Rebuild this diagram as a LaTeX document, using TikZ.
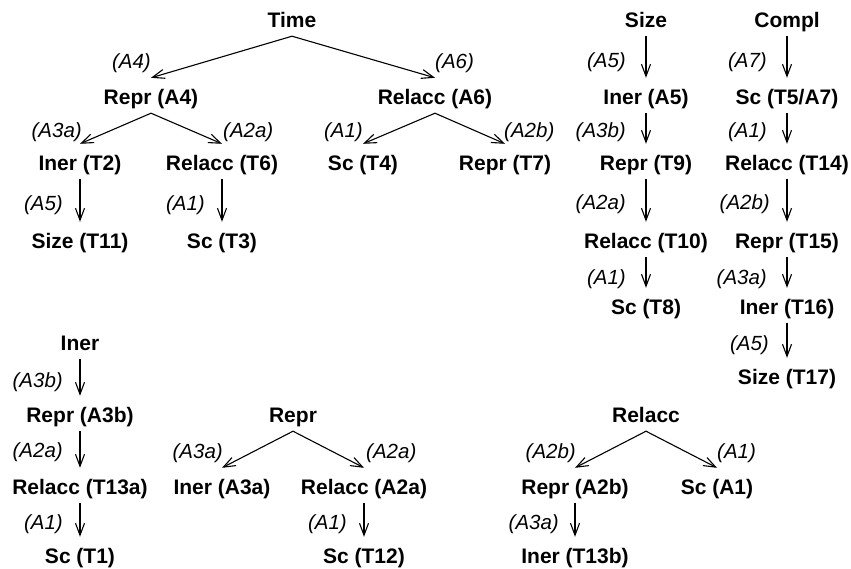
\documentclass[tikz,border=0pt]{standalone}
\usepackage{fontspec}
\newfontfamily\hv{Liberation Sans}
\usetikzlibrary{arrows.meta}
\begin{document}
\begin{tikzpicture}[x=1pt,y=-1pt,
  nd/.style={font=\hv\bfseries\fontsize{21}{21}\selectfont,text height=15pt,text depth=0pt,inner sep=0pt,anchor=center},
  lab/.style={font=\hv\itshape\fontsize{20.5}{20.5}\selectfont,text height=15pt,text depth=0pt,inner sep=0pt},
  arr/.style={line width=1.1pt,-{Straight Barb[length=12pt,width=9pt,line width=1.1pt]}}
]
\useasboundingbox (0,0) rectangle (851,568);
\newcommand\down[2]{\draw[arr] ([yshift=-8.5pt]#1.south) -- ([yshift=11.5pt]#2.north);}
% ---------- Time tree ----------
\node[nd] (time) at (292,20) {Time};
\node[nd] (reprA4) at (151,97) {Repr (A4)};
\node[nd] (relaccA6) at (435,97) {Relacc (A6)};
\node[nd] (inerT2) at (80,163) {Iner (T2)};
\node[nd] (relaccT6) at (222,163) {Relacc (T6)};
\node[nd] (scT4) at (363,163) {Sc (T4)};
\node[nd] (reprT7) at (505,163) {Repr (T7)};
\node[nd] (sizeT11) at (80,241) {Size (T11)};
\node[nd] (scT3) at (222,241) {Sc (T3)};
\down{time}{reprA4}
\down{time}{relaccA6}
\down{reprA4}{inerT2}
\down{reprA4}{relaccT6}
\down{relaccA6}{scT4}
\down{relaccA6}{reprT7}
\down{inerT2}{sizeT11}
\down{relaccT6}{scT3}
\node[lab,anchor=east] at (151,61) {(A4)};
\node[lab,anchor=west] at (435,61) {(A6)};
\node[lab,anchor=east] at (82,130) {(A3a)};
\node[lab,anchor=west] at (223,130) {(A2a)};
\node[lab,anchor=east] at (363,130) {(A1)};
\node[lab,anchor=west] at (504,130) {(A2b)};
\node[lab,anchor=east] at (63,203) {(A5)};
\node[lab,anchor=east] at (205,203) {(A1)};
% ---------- Size chain ----------
\node[nd] (size) at (646,20) {Size};
\node[nd] (inerA5) at (646,97) {Iner (A5)};
\node[nd] (reprT9) at (646,163) {Repr (T9)};
\node[nd] (relaccT10) at (646,241) {Relacc (T10)};
\node[nd] (scT8) at (646,307) {Sc (T8)};
\down{size}{inerA5}
\down{inerA5}{reprT9}
\down{reprT9}{relaccT10}
\down{relaccT10}{scT8}
\node[lab,anchor=east] at (626,60) {(A5)};
\node[lab,anchor=east] at (626,130) {(A3b)};
\node[lab,anchor=east] at (626,202) {(A2a)};
\node[lab,anchor=east] at (626,277) {(A1)};
% ---------- Compl chain ----------
\node[nd] (compl) at (787,20) {Compl};
\node[nd] (scT5) at (787,97) {Sc (T5/A7)};
\node[nd] (relaccT14) at (787,163) {Relacc (T14)};
\node[nd] (reprT15) at (787,241) {Repr (T15)};
\node[nd] (inerT16) at (787,307) {Iner (T16)};
\node[nd] (sizeT17) at (787,377) {Size (T17)};
\down{compl}{scT5}
\down{scT5}{relaccT14}
\down{relaccT14}{reprT15}
\down{reprT15}{inerT16}
\down{inerT16}{sizeT17}
\node[lab,anchor=east] at (767,60) {(A7)};
\node[lab,anchor=east] at (767,130) {(A1)};
\node[lab,anchor=east] at (770,202) {(A2b)};
\node[lab,anchor=east] at (767,277) {(A3a)};
\node[lab,anchor=east] at (769,343) {(A5)};
% ---------- Iner chain ----------
\node[nd] (iner) at (80,343) {Iner};
\node[nd] (reprA3b) at (80,415) {Repr (A3b)};
\node[nd] (relaccT13a) at (80,487) {Relacc (T13a)};
\node[nd] (scT1) at (80,556) {Sc (T1)};
\down{iner}{reprA3b}
\down{reprA3b}{relaccT13a}
\down{relaccT13a}{scT1}
\node[lab,anchor=east] at (63,380) {(A3b)};
\node[lab,anchor=east] at (63,450) {(A2a)};
\node[lab,anchor=east] at (63,522) {(A1)};
% ---------- Repr tree ----------
\node[nd] (repr) at (293,415) {Repr};
\node[nd] (inerA3a) at (222,487) {Iner (A3a)};
\node[nd] (relaccA2a) at (364,487) {Relacc (A2a)};
\node[nd] (scT12) at (364,556) {Sc (T12)};
\down{repr}{inerA3a}
\down{repr}{relaccA2a}
\down{relaccA2a}{scT12}
\node[lab,anchor=east] at (223,451) {(A3a)};
\node[lab,anchor=west] at (366,451) {(A2a)};
\node[lab,anchor=east] at (347,522) {(A1)};
% ---------- Relacc tree ----------
\node[nd] (relacc) at (646,415) {Relacc};
\node[nd] (reprA2b) at (575,487) {Repr (A2b)};
\node[nd] (scA1) at (717,487) {Sc (A1)};
\node[nd] (inerT13b) at (575,556) {Iner (T13b)};
\down{relacc}{reprA2b}
\down{relacc}{scA1}
\down{reprA2b}{inerT13b}
\node[lab,anchor=east] at (576,451) {(A2b)};
\node[lab,anchor=west] at (717,451) {(A1)};
\node[lab,anchor=east] at (559,522) {(A3a)};
\end{tikzpicture}
\end{document}
